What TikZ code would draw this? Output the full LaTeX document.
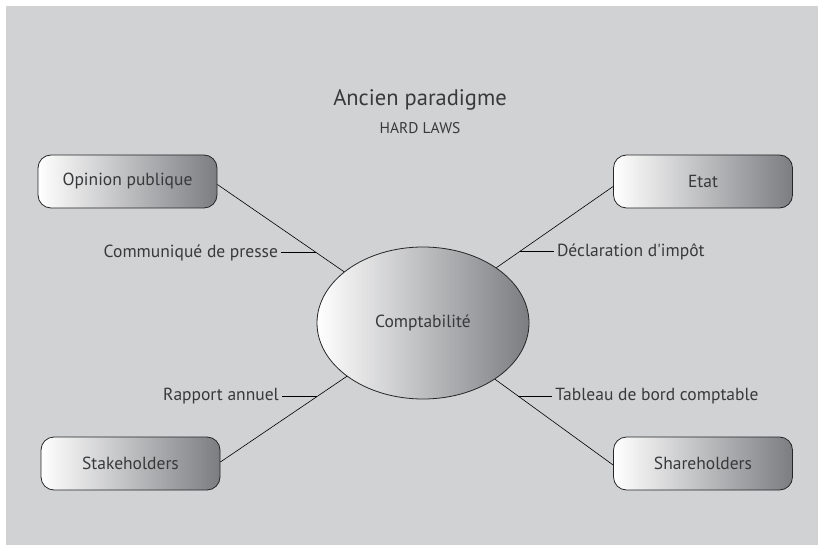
\documentclass[tikz,border=0pt]{standalone}
\usepackage{fontspec}
\setmainfont{PT Sans}
\usetikzlibrary{shapes, positioning}

\definecolor{fondgris}{HTML}{D1D2D4}
\definecolor{textegris}{HTML}{38393B}
\definecolor{grisfonce}{HTML}{7C7D81}

\begin{document}
\begin{tikzpicture}[x=1pt, y=-1pt, semithick, text=textegris, font=\fontsize{17.5}{20}\selectfont]
\tikzstyle{partie}=[draw=black!85, thick, rectangle, rounded corners=13pt, left color=white, right color=grisfonce, minimum width=179pt, minimum height=53pt]
\tikzstyle{flux}=[inner sep=3pt]

\fill[fondgris] (6,6) rectangle (818,545);
\useasboundingbox (0,0) rectangle (818,545);

\node (titre) at (420,100) {\fontsize{22.5}{26}\selectfont Ancien paradigme};
\node (hard) at (420,128) {\fontsize{15.5}{18}\selectfont HARD LAWS};

\node[draw=black!85, thick, ellipse, left color=white, right color=grisfonce, minimum width=212pt, minimum height=152pt] (compta) at (423,323) {Comptabilité};

\node[partie] (opinion) at (127.5,181.5) {Opinion publique};
\node[partie] (etat) at (703,181.5) {Etat};
\node[partie] (stake) at (130.5,463.5) {Stakeholders};
\node[partie] (share) at (703,463.5) {Shareholders};

\draw ([yshift=-3pt]opinion.east) -- (compta.147) coordinate[pos=0.78] (c1);
\draw ([yshift=-5pt]etat.west) -- (compta.37) coordinate[pos=0.8] (c2);
\draw ([yshift=1.5pt]stake.east) -- (compta.215) coordinate[pos=0.765] (c3);
\draw ([yshift=-1.5pt]share.west) -- (compta.322) coordinate[pos=0.805] (c4);

\node[flux, left=35pt of c1] (presse) {Communiqué de presse};
\node[flux, right=34pt of c2] (impot) {Déclaration d\textquotesingle impôt};
\node[flux, left=35pt of c3] (rapport) {Rapport annuel};
\node[flux, right=34pt of c4] (tableau) {Tableau de bord comptable};

\draw (presse) -- (c1);
\draw (impot) -- (c2);
\draw (rapport) -- (c3);
\draw (tableau) -- (c4);

\end{tikzpicture}
\end{document}
